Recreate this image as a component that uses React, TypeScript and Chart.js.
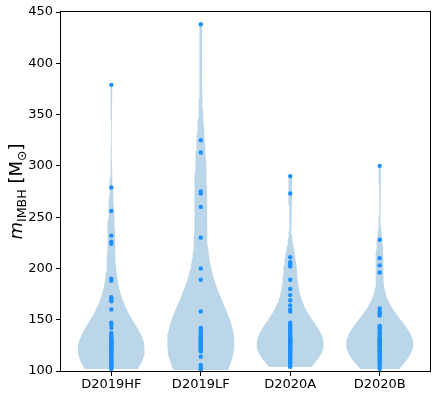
import React, { useEffect, useRef } from 'react';
import { Chart, registerables } from 'chart.js';
Chart.register(...registerables);

const categories = ['D2019HF', 'D2019LF', 'D2020A', 'D2020B'];
const positions = [1, 2, 3, 4];

const d2019HF = [379, 279, 256, 232, 226, 224, 190, 188, 172, 170, 168, 160, 147, 145, 142, 137, 135, 134, 132, 131, 130, 129, 128, 127, 126, 126, 125, 124, 123, 122, 121, 121, 120, 119, 118, 117, 116, 115, 114, 113, 112, 111, 110, 109, 108, 107, 106, 105, 104, 104, 103, 102];
const d2019LF = [438, 325, 313, 275, 273, 260, 230, 200, 189, 158, 142, 141, 139, 137, 136, 134, 133, 132, 130, 129, 128, 127, 126, 125, 124, 123, 122, 121, 120, 119, 114, 106, 104, 102, 101];
const d2020A = [290, 273, 211, 206, 204, 202, 189, 180, 174, 169, 164, 160, 158, 147, 145, 144, 143, 141, 140, 139, 137, 136, 135, 133, 132, 131, 130, 129, 128, 127, 126, 125, 124, 123, 122, 121, 120, 119, 118, 117, 116, 115, 113, 112, 111, 109, 108, 107, 105, 104];
const d2020B = [300, 228, 210, 203, 196, 161, 158, 156, 154, 144, 143, 142, 141, 139, 137, 136, 135, 133, 132, 131, 130, 129, 128, 127, 126, 125, 124, 122, 121, 120, 119, 118, 116, 115, 114, 112, 111, 110, 108, 106, 104, 102];

const seriesList = [d2019HF, d2019LF, d2020A, d2020B];
const yTicks = [100, 150, 200, 250, 300, 350, 400, 450];
const violinWidth = 0.75;

function violinPolygon(data: number[], pos: number) {
  const n = data.length;
  const mean = data.reduce((a, b) => a + b, 0) / n;
  const variance = data.reduce((a, b) => a + (b - mean) * (b - mean), 0) / (n - 1);
  const bw = Math.sqrt(variance) * Math.pow(n, -1 / 5);
  const lo = Math.min(...data);
  const hi = Math.max(...data);
  const m = 100;
  const ys: number[] = [];
  const ds: number[] = [];
  for (let i = 0; i < m; i++) {
    const y = lo + ((hi - lo) * i) / (m - 1);
    let d = 0;
    for (const v of data) {
      const z = (y - v) / bw;
      d += Math.exp(-0.5 * z * z);
    }
    ys.push(y);
    ds.push(d);
  }
  const dmax = Math.max(...ds);
  const left = ys.map((y, i) => ({ x: pos - (0.5 * violinWidth * ds[i]) / dmax, y }));
  const right = ys.map((y, i) => ({ x: pos + (0.5 * violinWidth * ds[i]) / dmax, y })).reverse();
  return [...left, ...right, left[0]];
}

const frameAndTitle = {
  id: 'frameAndTitle',
  afterDraw(chart: any) {
    const { ctx, chartArea } = chart;
    ctx.save();
    ctx.strokeStyle = '#000';
    ctx.lineWidth = 1;
    ctx.strokeRect(
      Math.round(chartArea.left) - 0.5,
      Math.round(chartArea.top) - 0.5,
      Math.round(chartArea.right - chartArea.left) + 1,
      Math.round(chartArea.bottom - chartArea.top) + 1
    );
    // y-axis title: m_IMBH [M_⊙]
    const F = 18;
    const S = F * 0.7;
    const segs = [
      { t: 'm', f: `italic ${F}px "DejaVu Sans"`, dy: 0 },
      { t: 'IMBH', f: `${S}px "DejaVu Sans"`, dy: F * 0.2 },
      { t: ' [M', f: `${F}px "DejaVu Sans"`, dy: 0 },
      { t: '⊙', f: `${S}px "DejaVu Sans"`, dy: F * 0.2 },
      { t: ']', f: `${F}px "DejaVu Sans"`, dy: 0 },
    ];
    let total = 0;
    const widths: number[] = [];
    for (const s of segs) {
      ctx.font = s.f;
      const w = ctx.measureText(s.t).width;
      widths.push(w);
      total += w;
    }
    const cy = (chartArea.top + chartArea.bottom) / 2;
    ctx.translate(22, cy);
    ctx.rotate(-Math.PI / 2);
    ctx.fillStyle = '#000';
    ctx.textBaseline = 'alphabetic';
    ctx.textAlign = 'left';
    let x = -total / 2;
    segs.forEach((s, i) => {
      ctx.font = s.f;
      ctx.fillText(s.t, x, s.dy);
      x += widths[i];
    });
    ctx.restore();
  },
};

export default function App() {
  const ref = useRef<HTMLCanvasElement | null>(null);
  useEffect(() => {
    if (!ref.current) return;
    const violinSets = seriesList.map((data, i) => ({
      type: 'line' as const,
      data: violinPolygon(data, positions[i]),
      showLine: true,
      fill: 'shape',
      backgroundColor: 'rgba(31,119,180,0.3)',
      borderWidth: 0,
      borderColor: 'rgba(0,0,0,0)',
      pointRadius: 0,
      tension: 0,
      order: 2,
    }));
    const pointSets = seriesList.map((data, i) => ({
      type: 'scatter' as const,
      data: data.map((v) => ({ x: positions[i], y: v })),
      pointRadius: 2.2,
      pointBackgroundColor: '#1e90ff',
      pointBorderWidth: 0,
      borderWidth: 0,
      showLine: false,
      order: 1,
    }));
    const tickFont = { family: '"DejaVu Sans"', size: 13 };
    const chart = new Chart(ref.current, {
      type: 'scatter',
      data: { datasets: [...violinSets, ...pointSets] as any },
      options: {
        animation: false,
        responsive: false,
        devicePixelRatio: 1,
        layout: { padding: { top: 12, right: 6, left: 0, bottom: 0 } },
        plugins: { legend: { display: false }, tooltip: { enabled: false } },
        scales: {
          x: {
            type: 'linear',
            min: 0.4375,
            max: 4.5625,
            afterBuildTicks: (scale: any) => {
              scale.ticks = positions.map((v) => ({ value: v }));
            },
            afterFit: (scale: any) => {
              scale.height = 25;
            },
            ticks: {
              autoSkip: false,
              maxRotation: 0,
              padding: 1,
              color: '#000',
              font: tickFont,
              callback: (v: any) => categories[Number(v) - 1] ?? '',
            },
            grid: { drawOnChartArea: false, drawTicks: true, tickLength: 5, color: '#000', lineWidth: 1 },
            border: { display: false },
          },
          y: {
            type: 'linear',
            min: 100,
            max: 450,
            afterBuildTicks: (scale: any) => {
              scale.ticks = yTicks.map((v) => ({ value: v }));
            },
            afterFit: (scale: any) => {
              scale.width = 61;
            },
            ticks: { padding: 3, color: '#000', font: tickFont },
            grid: { drawOnChartArea: false, drawTicks: true, tickLength: 5, color: '#000', lineWidth: 1 },
            border: { display: false },
          },
        },
      },
      plugins: [frameAndTitle],
    } as any);
    return () => chart.destroy();
  }, []);
  return (
    <div style={{ position: 'absolute', left: 0, top: 0, width: 436, height: 396, background: '#fff' }}>
      <canvas ref={ref} width={436} height={396} style={{ display: 'block' }} />
    </div>
  );
}
